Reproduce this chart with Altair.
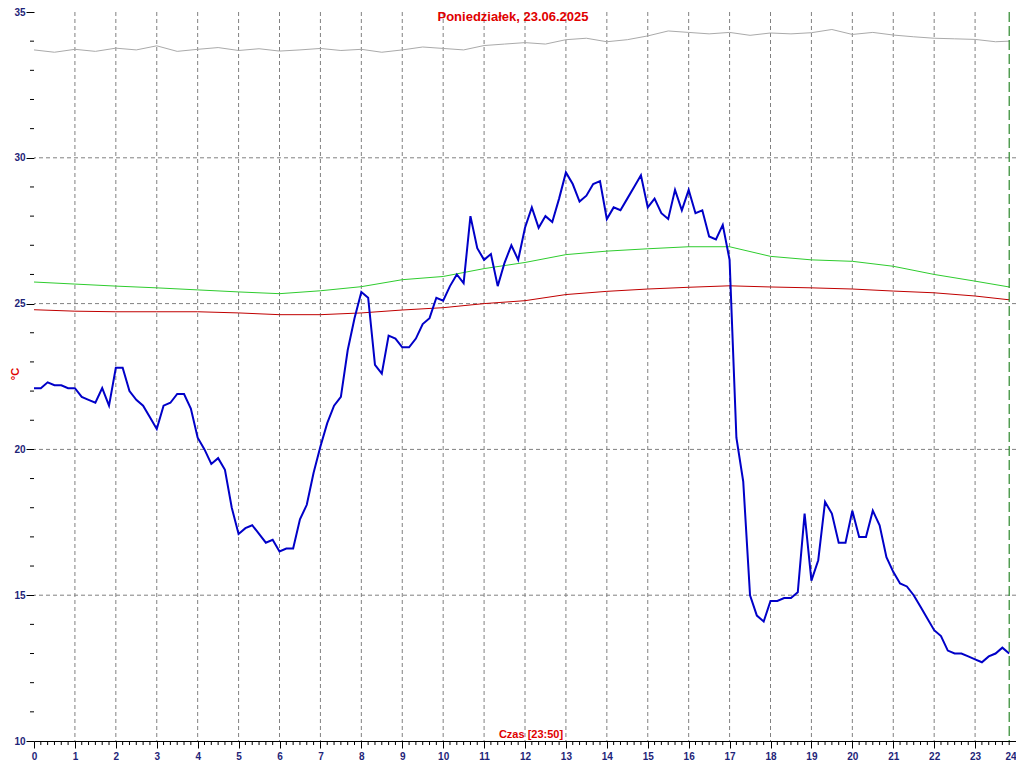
import altair as alt
import pandas as pd

W, H = 982, 729

TITLE = "Poniedziałek, 23.06.2025"
XLABEL = "Czas [23:50]"
YLABEL = "°C"

# main (blue) series, one value every 10 minutes from 00:00 to 23:50
blue = [
    22.1, 22.1, 22.3, 22.2, 22.2, 22.1, 22.1, 21.8, 21.7, 21.6, 22.1, 21.5,
    22.8, 22.8, 22.0, 21.7, 21.5, 21.1, 20.7, 21.5, 21.6, 21.9, 21.9, 21.4,
    20.4, 20.0, 19.5, 19.7, 19.3, 18.0, 17.1, 17.3, 17.4, 17.1, 16.8, 16.9,
    16.5, 16.6, 16.6, 17.6, 18.1, 19.2, 20.1, 20.9, 21.5, 21.8, 23.4, 24.5,
    25.4, 25.2, 22.9, 22.6, 23.9, 23.8, 23.5, 23.5, 23.8, 24.3, 24.5, 25.2,
    25.1, 25.6, 26.0, 25.7, 28.0, 26.9, 26.5, 26.7, 25.6, 26.4, 27.0, 26.5,
    27.6, 28.3, 27.6, 28.0, 27.8, 28.6, 29.5, 29.1, 28.5, 28.7, 29.1, 29.2,
    27.9, 28.3, 28.2, 28.6, 29.0, 29.4, 28.3, 28.6, 28.1, 27.9, 28.9, 28.2,
    28.9, 28.1, 28.2, 27.3, 27.2, 27.7, 26.5, 20.4, 18.9, 15.0, 14.3, 14.1,
    14.8, 14.8, 14.9, 14.9, 15.1, 17.8, 15.5, 16.2, 18.2, 17.8, 16.8, 16.8,
    17.9, 17.0, 17.0, 17.9, 17.4, 16.3, 15.8, 15.4, 15.3, 15.0, 14.6, 14.2,
    13.8, 13.6, 13.1, 13.0, 13.0, 12.9, 12.8, 12.7, 12.9, 13.0, 13.2, 13.0,
]
blue_minutes = list(range(0, 1440, 10))

# smooth series, hourly readings
hour_times = [0, 1, 2, 3, 4, 5, 6, 7, 8, 9, 10, 11, 12, 13, 14, 15, 16, 17,
              18, 19, 20, 21, 22, 23, 23.8333]
green = [25.74, 25.67, 25.60, 25.54, 25.47, 25.40, 25.34, 25.44, 25.58, 25.82,
         25.93, 26.20, 26.41, 26.68, 26.80, 26.88, 26.95, 26.95, 26.62, 26.50,
         26.45, 26.28, 26.00, 25.77, 25.57]
red = [24.79, 24.74, 24.72, 24.72, 24.72, 24.68, 24.62, 24.62, 24.68, 24.78,
       24.86, 25.00, 25.10, 25.31, 25.42, 25.50, 25.56, 25.61, 25.57, 25.54,
       25.50, 25.43, 25.37, 25.26, 25.13]

# grey series, half-hourly readings
grey_times = [0, 0.5, 1, 1.5, 2, 2.5, 3, 3.5, 4, 4.5, 5, 5.5, 6, 6.5, 7, 7.5,
              8, 8.5, 9, 9.5, 10, 10.5, 11, 11.5, 12, 12.5, 13, 13.5, 14, 14.5,
              15, 15.5, 16, 16.5, 17, 17.5, 18, 18.5, 19, 19.5, 20, 20.5, 21,
              21.5, 22, 22.5, 23, 23.5, 23.8333]
grey = [33.70, 33.62, 33.72, 33.65, 33.76, 33.70, 33.84, 33.65, 33.72, 33.78,
        33.68, 33.74, 33.66, 33.70, 33.75, 33.68, 33.72, 33.62, 33.70, 33.80,
        33.75, 33.70, 33.85, 33.90, 33.95, 33.90, 34.05, 34.10, 33.98, 34.05,
        34.18, 34.35, 34.30, 34.25, 34.30, 34.20, 34.28, 34.25, 34.29, 34.40,
        34.23, 34.30, 34.21, 34.15, 34.10, 34.08, 34.06, 33.98, 34.00]

x_major = list(range(25))
y_major = [10, 15, 20, 25, 30, 35]
x_grid = list(range(1, 24))
y_grid = [15, 20, 25, 30]
x_minor = [m / 60 for m in range(0, 1441, 10) if m % 60 != 0]
y_minor = [v for v in range(11, 35) if v % 5 != 0]
now_time = [23.8333]

LABEL_COLOR = "#1e2478"
FONT = "Liberation Sans"

xs = alt.Scale(domain=[0, 24], nice=False, zero=False)
ys = alt.Scale(domain=[10, 35], nice=False, zero=False)

AX_X = alt.Axis(
    values=x_major, format="d", title=None, grid=False,
    domain=True, domainColor="black", domainWidth=1,
    tickColor="black", tickSize=7, tickWidth=1,
    labelFont=FONT, labelFontSize=10, labelFontWeight="bold",
    labelColor=LABEL_COLOR, labelPadding=3, labelFlush=False,
    labelOverlap=False,
    labelAlign={"expr": "datum.value >= 24 ? 'right' : 'center'"},
)
AX_Y = alt.Axis(
    values=y_major, format="d", title=None, grid=False, domain=False,
    tickColor="black", tickSize=8, tickWidth=1,
    labelFont=FONT, labelFontSize=10, labelFontWeight="bold",
    labelColor=LABEL_COLOR, labelPadding=1, labelOverlap=False,
)


def X(field="h:Q"):
    return alt.X(field, scale=xs, axis=AX_X)


def Y(field="v:Q"):
    return alt.Y(field, scale=ys, axis=AX_Y)


df_blue = pd.DataFrame({"h": [m / 60 for m in blue_minutes], "v": blue})
df_green = pd.DataFrame({"h": hour_times, "v": green})
df_red = pd.DataFrame({"h": hour_times, "v": red})
df_grey = pd.DataFrame({"h": grey_times, "v": grey})

grid_style = dict(color="#808080", strokeDash=[4, 3], strokeWidth=1)

vgrid = alt.Chart(pd.DataFrame({"h": x_grid})).mark_rule(**grid_style).encode(x=X())
hgrid = alt.Chart(pd.DataFrame({"v": y_grid})).mark_rule(**grid_style).encode(y=Y())
xminor = alt.Chart(pd.DataFrame({"h": x_minor})).mark_rule(color="black", strokeWidth=1).encode(
    x=X(), y=alt.value(H), y2=alt.value(H + 4),
)
yminor = alt.Chart(pd.DataFrame({"v": y_minor})).mark_rule(color="black", strokeWidth=1).encode(
    y=Y(), x=alt.value(-4), x2=alt.value(0),
)

grey_line = alt.Chart(df_grey).mark_line(color="#aaaaaa", strokeWidth=1).encode(x=X(), y=Y())
green_line = alt.Chart(df_green).mark_line(color="#2ecc2e", strokeWidth=1).encode(x=X(), y=Y())
red_line = alt.Chart(df_red).mark_line(color="#c00000", strokeWidth=1).encode(x=X(), y=Y())
blue_line = alt.Chart(df_blue).mark_line(color="#0000c8", strokeWidth=2).encode(x=X(), y=Y())
now_rule = alt.Chart(pd.DataFrame({"h": now_time})).mark_rule(
    color="#007000", strokeDash=[10, 4], strokeWidth=1
).encode(x=X())

title_txt = alt.Chart(pd.DataFrame({"t": [TITLE]})).mark_text(
    font=FONT, fontSize=13, fontWeight="bold", color="#e00000",
    align="center", baseline="middle",
).encode(x=alt.value(479), y=alt.value(5), text="t:N")

xlab_txt = alt.Chart(pd.DataFrame({"t": [XLABEL]})).mark_text(
    font=FONT, fontSize=11, fontWeight="bold", color="#e00000",
    align="center", baseline="middle",
).encode(x=alt.value(497), y=alt.value(H - 6), text="t:N")

ylab_txt = alt.Chart(pd.DataFrame({"t": [YLABEL]})).mark_text(
    font=FONT, fontSize=11, fontWeight="bold", color="#e00000",
    align="center", baseline="middle", angle=270,
).encode(x=alt.value(-18), y=alt.value(362), text="t:N")

chart = alt.layer(
    vgrid, hgrid, xminor, yminor, grey_line, green_line, red_line, blue_line,
    now_rule, title_txt, xlab_txt, ylab_txt,
).properties(
    width=W, height=H,
    autosize=alt.AutoSizeParams(type="none"),
    padding={"left": 26, "top": 4, "right": 0, "bottom": 19},
).configure_view(strokeWidth=0)

chart.save("out.html", embed_options={"renderer": "svg", "actions": False})
